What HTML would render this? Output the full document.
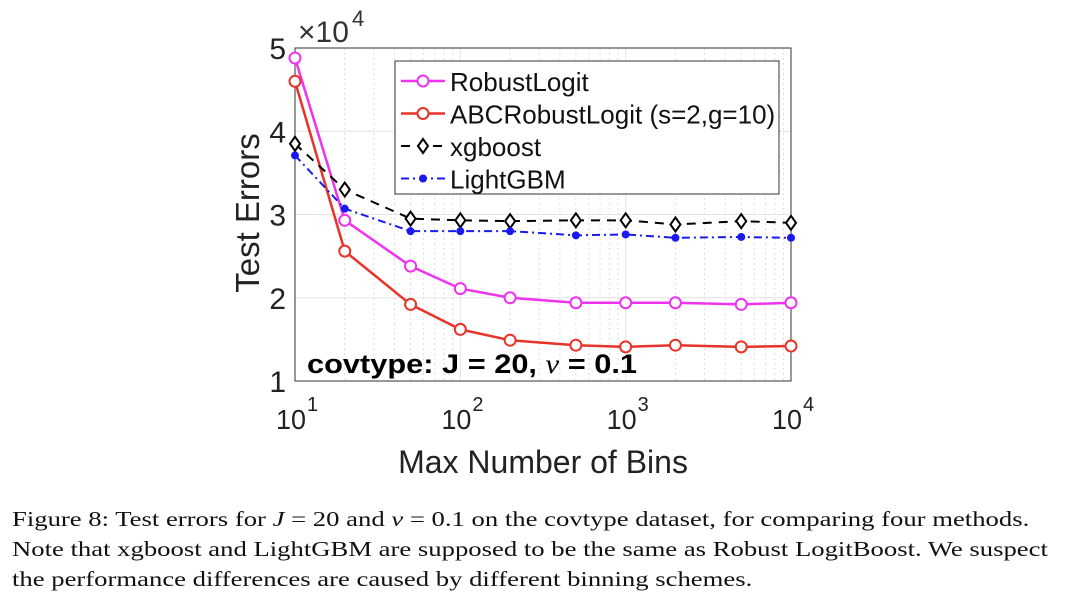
<!DOCTYPE html>
<html><head><meta charset="utf-8"><style>
body{margin:0;background:#fff;width:1080px;height:609px;overflow:hidden}
.cap{position:absolute;left:12px;font-family:"Liberation Serif",serif;font-size:21px;color:#111;white-space:nowrap;transform-origin:0 0;transform:scaleX(1.27)}
</style></head><body>
<svg id="chart" width="1080" height="500" style="position:absolute;left:0;top:0" font-family="Liberation Sans, sans-serif"></svg>
<div class="cap" style="top:507px">Figure 8: Test errors for <i>J</i> = 20 and <i>ν</i> = 0.1 on the covtype dataset, for comparing four methods.</div>
<div class="cap" style="top:537px">Note that xgboost and LightGBM are supposed to be the same as Robust LogitBoost. We suspect</div>
<div class="cap" style="top:567px">the performance differences are caused by different binning schemes.</div>
<script>
const bins=[10,20,50,100,200,500,1000,2000,5000,10000];
const robust=[4.88,2.93,2.38,2.11,2.0,1.94,1.94,1.94,1.92,1.94];
const abc=[4.6,2.56,1.92,1.62,1.49,1.43,1.41,1.43,1.41,1.42];
const xgb=[3.85,3.30,2.95,2.93,2.92,2.93,2.93,2.88,2.92,2.90];
const lgbm=[3.71,3.07,2.80,2.80,2.80,2.75,2.76,2.72,2.73,2.72];
const yTicks=[1,2,3,4,5];
const xTicks=[10,100,1000,10000];
const xTickExp=['1','2','3','4'];
const L=295,R=791,T=48,B=381;
const X=v=>L+(Math.log10(v)-1)/3*(R-L);
const Y=v=>B-(v-1)/4*(B-T);
const svg=document.getElementById('chart');const NS='http://www.w3.org/2000/svg';
function mk(t,a,p){const e=document.createElementNS(NS,t);for(const k in a)e.setAttribute(k,a[k]);(p||svg).appendChild(e);return e;}
let e;
e=mk('rect',{x:L,y:T,width:R-L,height:B-T,fill:'#fff'});

for(let d=1;d<4;d++)for(let m=2;m<10;m++){const v=m*Math.pow(10,d);
e=mk('line',{x1:X(v),x2:X(v),y1:T,y2:B,stroke:'#ddd','stroke-dasharray':'2,3','stroke-width':1});
}
xTicks.forEach((v,i)=>{
e=mk('line',{x1:X(v),x2:X(v),y1:T,y2:B,stroke:'#e4e4e4'});

e=mk('text',{x:X(v)-4,y:429,'font-size':28,'text-anchor':'middle',fill:'#222',textLength:30,lengthAdjust:'spacingAndGlyphs'});e.textContent='10';

e=mk('text',{x:X(v)+12,y:411,'font-size':20,fill:'#222'});e.textContent=xTickExp[i];

});
yTicks.forEach(v=>{
e=mk('line',{x1:L,x2:R,y1:Y(v),y2:Y(v),stroke:'#e4e4e4'});

e=mk('text',{x:L-9,y:Y(v)+11,'font-size':30,'text-anchor':'end',fill:'#222'});e.textContent=v;

});
e=mk('rect',{x:L,y:T,width:R-L,height:B-T,fill:'none',stroke:'#333','stroke-width':1});

e=mk('text',{x:298,y:42,'font-size':30,fill:'#333'});e.textContent='×10';

e=mk('text',{x:352,y:26,'font-size':22,fill:'#333'});e.textContent='4';

e=mk('text',{x:0,y:0,'font-size':33,'text-anchor':'middle',fill:'#222',transform:'translate(259,213) rotate(-90)'});e.textContent='Test Errors';

e=mk('text',{x:543,y:473,'font-size':32,'text-anchor':'middle',fill:'#222'});e.textContent='Max Number of Bins';

e=mk('text',{x:307,y:373,'font-size':27,'font-weight':'bold',fill:'#000',textLength:330,lengthAdjust:'spacingAndGlyphs'});
e.innerHTML='covtype: J = 20, <tspan font-family="Liberation Serif" font-style="italic" font-weight="normal">ν</tspan> = 0.1';

const series=[
{n:'robust',d:robust,c:'#ee33ee',dash:'',m:'circle',w:2.5},
{n:'abc',d:abc,c:'#e8332a',dash:'',m:'circle',w:2.5},
{n:'xgboost',d:xgb,c:'#000',dash:'9,7',m:'diamond',w:2},
{n:'lightgbm',d:lgbm,c:'#1a1aee',dash:'8,4,2,4',m:'dot',w:2}];
function marker(s,x,y,g){let m;
if(s.m==='circle')m=mk('circle',{cx:x,cy:y,r:5.5,fill:'#fff',stroke:s.c,'stroke-width':2},g);
else if(s.m==='diamond')m=mk('path',{d:`M${x},${y-7}L${x+5},${y}L${x},${y+7}L${x-5},${y}Z`,fill:'#fff',stroke:s.c,'stroke-width':2},g);
else m=mk('circle',{cx:x,cy:y,r:4,fill:s.c},g);
}
series.forEach(s=>{
const g=mk('g',{});
e=mk('polyline',{points:bins.map((b,i)=>X(b)+','+Y(s.d[i])).join(' '),fill:'none',stroke:s.c,'stroke-width':s.w,'stroke-dasharray':s.dash},g);

bins.forEach((b,i)=>marker(s,X(b),Y(s.d[i]),g));});
const lg=mk('g',{});
e=mk('rect',{x:395,y:61,width:384,height:133,fill:'#fff',stroke:'#333'},lg);

const labels=['RobustLogit','ABCRobustLogit (s=2,g=10)','xgboost','LightGBM'];
series.forEach((s,i)=>{const y=81+i*32.5;
const g=mk('g',{},lg);
e=mk('line',{x1:401,x2:445,y1:y,y2:y,stroke:s.c,'stroke-width':s.w,'stroke-dasharray':s.dash},g);

marker(s,423,y,g);
e=mk('text',{x:450,y:y+10,'font-size':26,fill:'#111'},g);e.textContent=labels[i];
});
</script>
</body></html>
